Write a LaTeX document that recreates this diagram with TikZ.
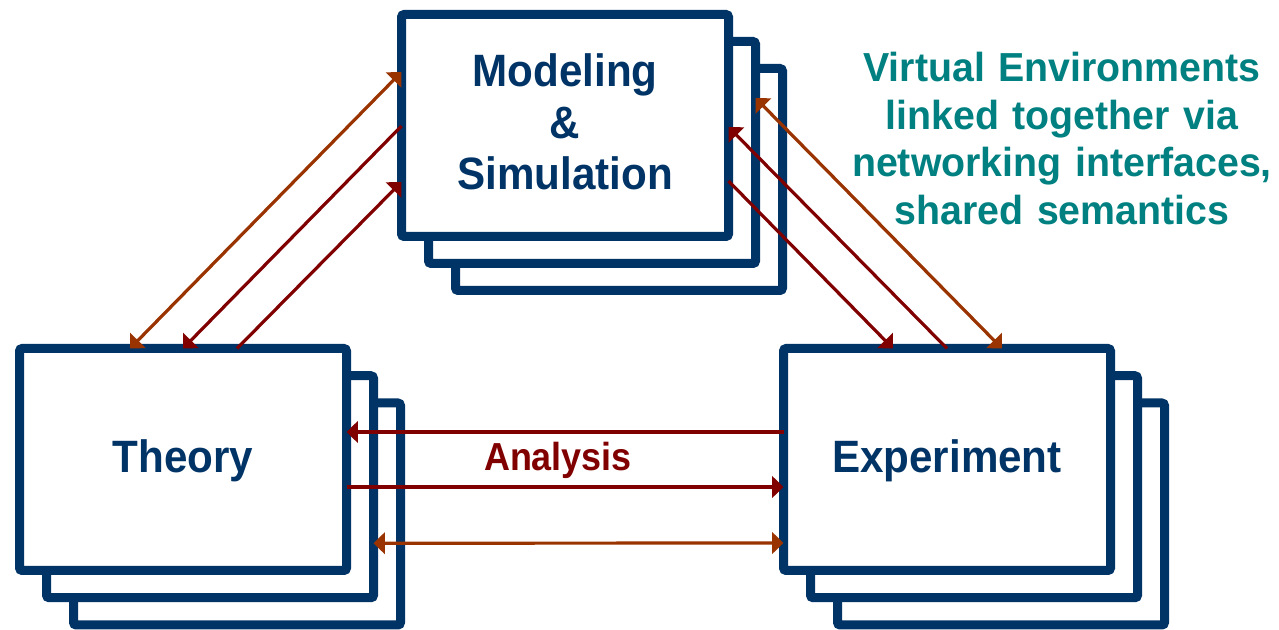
\documentclass[tikz,border=0pt]{standalone}
\usepackage{fontspec}
\setmainfont{Liberation Sans}
\newfontfamily\boxfont[FakeStretch=0.93]{Liberation Sans}
\newfontfamily\anfont[FakeStretch=0.92]{Liberation Sans}
\newfontfamily\notefont[FakeStretch=0.97]{Liberation Sans}
\usetikzlibrary{arrows.meta,calc}
\definecolor{navy}{RGB}{0,51,102}
\definecolor{dred}{RGB}{128,0,0}
\definecolor{brn}{RGB}{153,51,0}
\definecolor{tealtxt}{RGB}{0,128,128}
\begin{document}
\begin{tikzpicture}[x=0.75pt,y=-0.75pt,
  card/.style={draw=navy, line width=6.75pt, fill=white, rounded corners=2pt,
    minimum width=245.25pt, minimum height=166.5pt, inner sep=0pt, outer sep=0pt},
  redarr/.style={draw=dred, line width=2.4pt, -{Triangle[length=8.5pt,width=16pt]}},
  brnarr/.style={draw=brn, line width=2.4pt,
    {Triangle[length=8.5pt,width=16pt]}-{Triangle[length=8.5pt,width=16pt]}},
  boxtext/.style={text=navy, font=\boxfont\bfseries\fontsize{34}{38.6}\selectfont,
    align=center, text width=300pt, anchor=base, inner sep=0pt},
  notetext/.style={text=tealtxt, font=\notefont\bfseries\fontsize{30.4}{35.6}\selectfont,
    align=center, text width=340pt, anchor=base, inner sep=0pt},
  antext/.style={text=dred, font=\anfont\bfseries\fontsize{29.3}{34}\selectfont,
    anchor=base, inner sep=0pt}]
\useasboundingbox (0,0) rectangle (1279,630);

% Modeling & Simulation stack
\node[card] (M3) at (619,179.5) {};
\node[card] (M2) at (592,152.5) {};
\node[card] (M)  at (565,125.5) {};
% Theory stack
\node[card] (T3) at (237,514) {};
\node[card] (T2) at (210,486.75) {};
\node[card] (T)  at (183,459.5) {};
% Experiment stack
\node[card] (E3) at (1001,514) {};
\node[card] (E2) at (974,486.75) {};
\node[card] (E)  at (947,459.5) {};

% texts
\node[boxtext] (tM) at (565,87) {Modeling\\\&\\Simulation};
\node[boxtext] (tT) at (183,473) {Theory};
\node[boxtext] (tE) at (947,473) {Experiment};
\node[notetext] (note) at (1062,82) {Virtual Environments\\linked together via\\networking interfaces,\\shared semantics};
\node[antext] (an) at (558,471) {Analysis};

% Theory <-> Modeling
\draw[brnarr] ($(T.north west)+(110.5,0)$) -- ($(M.north west)+(0,57.5)$);
\draw[redarr] ($(M.north west)+(0,111.5)$) -- ($(T.north west)+(163.5,0)$);
\draw[redarr] ($(T.north west)+(217.5,0)$) -- ($(M.north west)+(0,167.5)$);

% Modeling <-> Experiment
\draw[redarr] ($(M.north east)+(0,166.5)$) -- ($(E.north west)+(109.5,0)$);
\draw[redarr] ($(E.north west)+(163.5,0)$) -- ($(M.north east)+(0,112.5)$);
\draw[brnarr] ($(M2.north east)+(0,56.5)$) -- ($(E.north west)+(218.5,0)$);

% Theory <-> Experiment
\draw[redarr] ($(E.north west)+(0,83.5)$) -- ($(T.north east)+(0,83.5)$);
\draw[redarr] ($(T.north east)+(0,138.5)$) -- ($(E.north west)+(0,138.5)$);
\draw[brnarr] ($(T2.north east)+(0,167.5)$) -- ($(E.north west)+(0,194.5)$);
\end{tikzpicture}
\end{document}
